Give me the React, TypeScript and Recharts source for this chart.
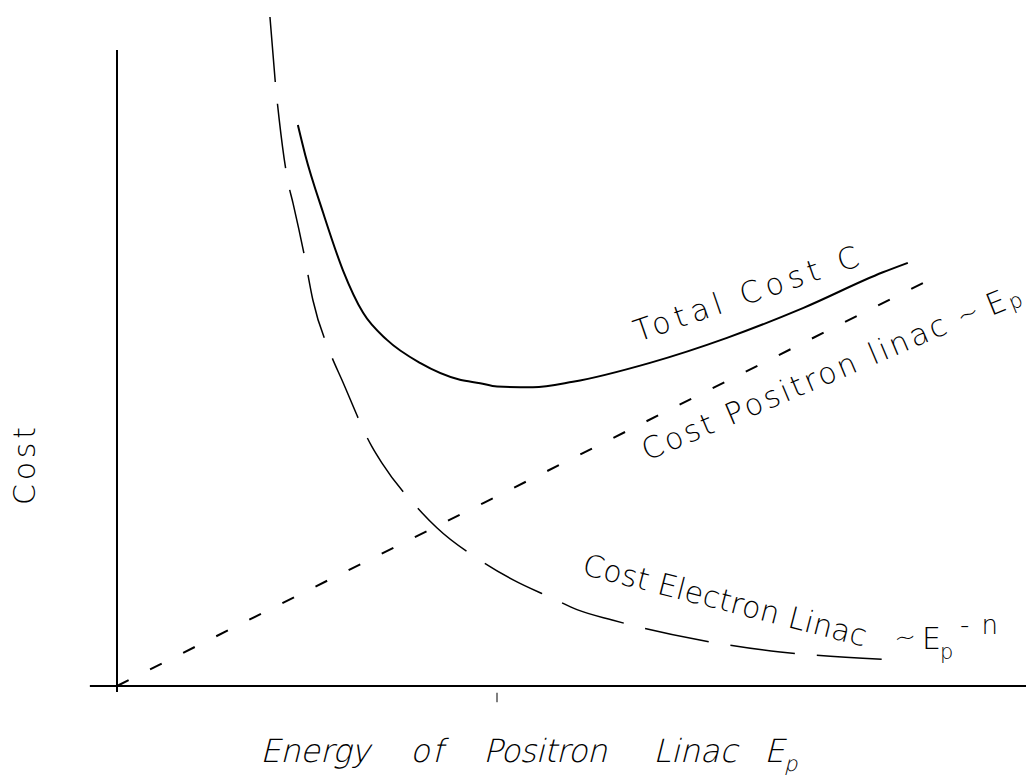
import React from "react";
import { LineChart, Line, XAxis, YAxis, ReferenceLine } from "recharts";

// Energy of positron linac (arbitrary units); the optimum is near 10.4
const totalCost = [
  { x: 4.93, y: 83.0 },
  { x: 5.13, y: 78.6 },
  { x: 5.62, y: 70.0 },
  { x: 6.16, y: 61.5 },
  { x: 6.71, y: 55.2 },
  { x: 7.36, y: 51.2 },
  { x: 8.26, y: 47.8 },
  { x: 9.35, y: 45.3 },
  { x: 9.9, y: 44.8 },
  { x: 10.36, y: 44.3 },
  { x: 11.34, y: 44.2 },
  { x: 12.43, y: 45.0 },
  { x: 14.53, y: 47.8 },
  { x: 16.63, y: 51.5 },
  { x: 18.7, y: 55.9 },
  { x: 20.88, y: 61.2 },
  { x: 21.56, y: 62.6 },
];

const positronCost = [
  { x: 0, y: 0 },
  { x: 5, y: 13.6 },
  { x: 10, y: 27.1 },
  { x: 15, y: 40.7 },
  { x: 22.3, y: 60.5 },
];

const electronCost = [
  { x: 4.17, y: 98.96 },
  { x: 4.33, y: 88.5 },
  { x: 4.42, y: 83.9 },
  { x: 4.66, y: 74.6 },
  { x: 4.8, y: 71.4 },
  { x: 5.1, y: 63.9 },
  { x: 5.34, y: 57.1 },
  { x: 5.81, y: 49.3 },
  { x: 6.13, y: 45.3 },
  { x: 6.95, y: 35.4 },
  { x: 7.22, y: 33.0 },
  { x: 8.32, y: 25.6 },
  { x: 8.72, y: 23.4 },
  { x: 9.9, y: 18.6 },
  { x: 10.8, y: 15.7 },
  { x: 11.86, y: 13.0 },
  { x: 12.54, y: 11.3 },
  { x: 13.5, y: 9.76 },
  { x: 15.89, y: 6.8 },
  { x: 16.52, y: 6.2 },
  { x: 18.08, y: 5.03 },
  { x: 18.62, y: 4.75 },
  { x: 21.29, y: 3.85 },
];

const optimumEnergy = 10.36;

const FONT = "'DejaVu Sans', 'Open Sans', sans-serif";
const ink = "#000";

// page coords -> chart coords (8px body margin)
const c = (v: number) => v - 8;

const T = (props: any) => {
  const { x, y, rot = 0, skew = 0, size = 30, len, children } = props;
  const cx = c(x);
  const cy = c(y);
  return (
    <text
      x={0}
      y={0}
      transform={`translate(${cx}, ${cy}) rotate(${rot}) skewX(${skew})`}
      fontFamily={FONT}
      fontWeight={200}
      fontSize={size}
      fill={ink}
      textLength={len}
      lengthAdjust={len ? "spacing" : undefined}
    >
      {children}
    </text>
  );
};

export default function App() {
  return (
    <div style={{ width: 1026, height: 775, background: "#fff", marginBottom: -8 }}>
      <LineChart
        width={1026}
        height={775}
        margin={{ top: 2, right: 0, bottom: 97, left: 109 }}
      >
        <XAxis type="number" dataKey="x" domain={[0, 25]} hide />
        <YAxis type="number" dataKey="y" domain={[0, 100]} hide />

        <ReferenceLine
          segment={[{ x: -0.74, y: 0 }, { x: 25, y: 0 }]}
          stroke={ink}
          strokeWidth={2}
          ifOverflow="visible"
        />
        <ReferenceLine
          segment={[{ x: 0, y: -0.9 }, { x: 0, y: 94.1 }]}
          stroke={ink}
          strokeWidth={2}
          ifOverflow="visible"
        />
        <ReferenceLine
          segment={[{ x: optimumEnergy, y: -1.0 }, { x: optimumEnergy, y: -2.4 }]}
          stroke={ink}
          strokeWidth={1}
          ifOverflow="visible"
        />

        <Line
          data={positronCost}
          dataKey="y"
          type="linear"
          stroke={ink}
          strokeWidth={2}
          strokeDasharray="13 24"
          dot={false}
          isAnimationActive={false}
        />
        <Line
          data={electronCost}
          dataKey="y"
          type="monotone"
          stroke={ink}
          strokeWidth={1.5}
          strokeDasharray="65 22"
          dot={false}
          isAnimationActive={false}
        />
        <Line
          data={totalCost}
          dataKey="y"
          type="monotone"
          stroke={ink}
          strokeWidth={2}
          dot={false}
          isAnimationActive={false}
        />

        <g>
          <T x={638} y={342} rot={-19} len={236}>Total Cost C</T>

          <T x={647} y={461} rot={-23} len={328}>Cost Positron linac</T>
          <T x={961} y={326} rot={-22} size={26}>~</T>
          <T x={991} y={316} rot={-22} size={30}>E</T>
          <T x={1012} y={310} rot={-22} size={21}>p</T>

          <T x={581} y={574} rot={14.4} len={292}>Cost Electron Linac</T>
          <T x={895} y={647} rot={-5} size={26}>~</T>
          <T x={922} y={649} size={30}>E</T>
          <T x={940} y={659} size={21}>p</T>
          <T x={960} y={634} size={26} len={38}>-n</T>

          <T x={35} y={505} rot={-90} len={78}>Cost</T>

          <T x={260} y={762} skew={-14} len={110} size={32}>Energy</T>
          <T x={410} y={762} skew={-14} len={33} size={32}>of</T>
          <T x={483} y={762} skew={-14} len={124} size={32}>Positron</T>
          <T x={653} y={762} skew={-14} len={84} size={32}>Linac</T>
          <T x={764} y={762} skew={-14} size={32}>E</T>
          <T x={784} y={771} skew={-14} size={21}>p</T>
        </g>
      </LineChart>
    </div>
  );
}
